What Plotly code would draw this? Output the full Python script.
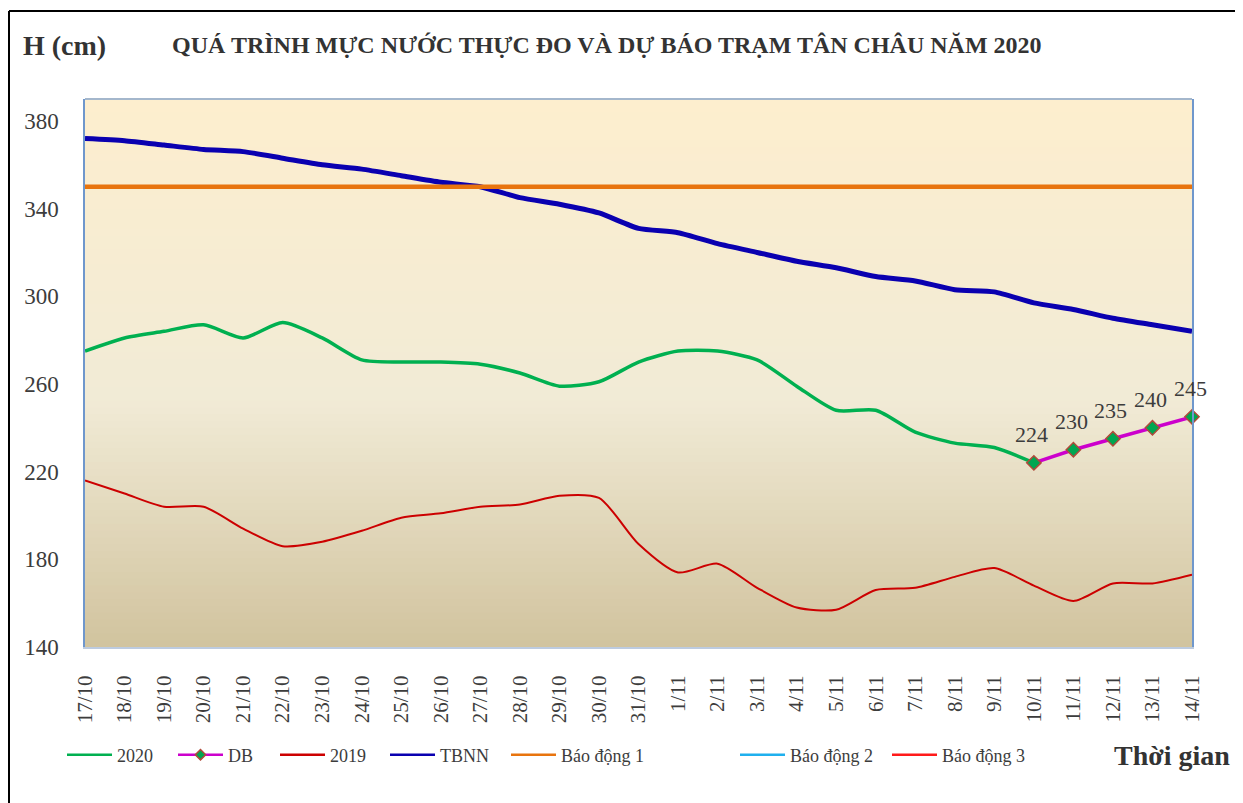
import plotly.graph_objects as go

dates = ["17/10", "18/10", "19/10", "20/10", "21/10", "22/10", "23/10", "24/10", "25/10",
         "26/10", "27/10", "28/10", "29/10", "30/10", "31/10", "1/11", "2/11", "3/11",
         "4/11", "5/11", "6/11", "7/11", "8/11", "9/11", "10/11", "11/11", "12/11",
         "13/11", "14/11"]

h2020 = [275, 281, 284, 287, 281, 288, 281, 271, 270, 270, 269, 265, 259, 261, 270,
         275, 275, 271, 259, 248, 248, 238, 233, 231, 224]
db_dates = ["10/11", "11/11", "12/11", "13/11", "14/11"]
db_vals = [224, 230, 235, 240, 245]
h2019 = [216, 210, 204, 204, 194, 186, 188, 193, 199, 201, 204, 205, 209, 208, 187,
         174, 178, 167, 158, 157, 166, 167, 172, 176, 168, 161, 169, 169, 173]
tbnn = [372, 371, 369, 367, 366, 363, 360, 358, 355, 352, 350, 345, 342, 338, 331,
        329, 324, 320, 316, 313, 309, 307, 303, 302, 297, 294, 290, 287, 284]
bd1 = [350] * len(dates)
bd2 = [400] * len(dates)
bd3 = [450] * len(dates)

yticks = [140, 180, 220, 260, 300, 340, 380]

SERIF = "Liberation Serif"
TXT = "#3c3c3c"

C2020, CDB, C2019, CTB, CBD1, CBD2, CBD3 = ("#00B050", "#CC00CC", "#CC0000", "#0A00B0",
                                          "#E8740E", "#1FB0EE", "#FF1A1A")

fig = go.Figure()

fig.add_trace(go.Scatter(x=dates[:len(h2020)], y=h2020, name="2020", mode="lines",
                         line=dict(color=C2020, width=3.5, shape="spline", smoothing=0.7),
                         showlegend=False))
fig.add_trace(go.Scatter(x=db_dates, y=db_vals, name="DB", mode="lines+markers",
                         line=dict(color=CDB, width=3.5),
                         marker=dict(symbol="diamond", size=11, color="#00A651",
                                     line=dict(color="#B04A3A", width=1.5)),
                         cliponaxis=False, showlegend=False))
fig.add_trace(go.Scatter(x=dates, y=h2019, name="2019", mode="lines",
                         line=dict(color=C2019, width=2, shape="spline", smoothing=0.7),
                         showlegend=False))
fig.add_trace(go.Scatter(x=dates, y=tbnn, name="TBNN", mode="lines",
                         line=dict(color=CTB, width=5, shape="spline", smoothing=0.6),
                         showlegend=False))
fig.add_trace(go.Scatter(x=dates, y=bd1, name="Báo động 1", mode="lines",
                         line=dict(color=CBD1, width=4.5), showlegend=False))
fig.add_trace(go.Scatter(x=dates, y=bd2, name="Báo động 2", mode="lines",
                         line=dict(color=CBD2, width=2.5), showlegend=False))
fig.add_trace(go.Scatter(x=dates, y=bd3, name="Báo động 3", mode="lines",
                         line=dict(color=CBD3, width=2.5), showlegend=False))

# legend entries (thin lines as in the reference legend)
leg_names = ["legend", "legend2", "legend3", "legend4", "legend5", "legend6", "legend7"]
leg_labels = ["2020", "DB", "2019", "TBNN", "Báo động 1", "Báo động 2", "Báo động 3"]
leg_colors = [C2020, CDB, C2019, CTB, CBD1, CBD2, CBD3]
for nm, lab, col in zip(leg_names, leg_labels, leg_colors):
    if lab == "DB":
        fig.add_trace(go.Scatter(x=[None], y=[None], name=lab, mode="lines+markers",
                                 line=dict(color=col, width=2.5),
                                 marker=dict(symbol="diamond", size=8, color="#00A651",
                                             line=dict(color="#B04A3A", width=1.5)),
                                 legend=nm, showlegend=True))
    else:
        fig.add_trace(go.Scatter(x=[None], y=[None], name=lab, mode="lines",
                                 line=dict(color=col, width=2.5), legend=nm, showlegend=True))

# background gradient bands in the plot area
def lerp(c1, c2, t):
    return tuple(round(a + (b - a) * t) for a, b in zip(c1, c2))

top_c = (253, 238, 206)
mid_c = (241, 235, 214)
bot_c = (209, 195, 158)
mid_pos = 0.45
N = 80
shapes = []
for i in range(N):
    y0 = i / N
    y1 = (i + 1) / N
    yc = (y0 + y1) / 2
    if yc >= mid_pos:
        c = lerp(mid_c, top_c, (yc - mid_pos) / (1 - mid_pos))
    else:
        c = lerp(bot_c, mid_c, yc / mid_pos)
    shapes.append(dict(type="rect", xref="x domain", yref="y domain", x0=0, x1=1,
                       y0=y0, y1=y1 + 0.002, fillcolor="rgb(%d,%d,%d)" % c,
                       line=dict(width=0), layer="below"))
# plot-area top border
shapes.append(dict(type="line", xref="x domain", yref="y domain", x0=0, x1=1, y0=1, y1=1,
                   line=dict(color="#86A5CB", width=1.5)))

# page offset (body margin) compensation
W, H = 1243, 803
OFF = 8
PL, PT, PW, PH = 85, 99, 1107, 548   # plot area in screenshot pixels
L = PL - OFF
T = PT - OFF
R = W - L - PW
B = H - T - PH

def px(x):
    return (x - PL) / PW
def py(y):
    return (PT + PH - y) / PH

# outer black frame (top and left)
shapes.append(dict(type="line", xref="paper", yref="paper", x0=px(9), x1=px(1270),
                   y0=py(11), y1=py(11), line=dict(color="black", width=2)))
shapes.append(dict(type="line", xref="paper", yref="paper", x0=px(9), x1=px(9),
                   y0=py(11), y1=py(830), line=dict(color="black", width=2)))

annotations = [
    dict(text="<b>QUÁ TRÌNH MỰC NƯỚC THỰC ĐO VÀ DỰ BÁO TRẠM TÂN CHÂU NĂM 2020</b>",
         xref="paper", yref="paper", x=px(607), y=py(45), showarrow=False,
         xanchor="center", yanchor="middle", font=dict(family=SERIF, size=24, color="#333333")),
    dict(text="<b>H (cm)</b>", xref="paper", yref="paper", x=px(21), y=py(45),
         showarrow=False, xanchor="left", yanchor="middle",
         font=dict(family=SERIF, size=28, color="#333333")),
    dict(text="<b>Thời gian</b>", xref="paper", yref="paper", x=px(1172), y=py(755),
         showarrow=False, xanchor="center", yanchor="middle",
         font=dict(family=SERIF, size=28, color="#333333")),
]
for d, v in zip(db_dates, db_vals):
    annotations.append(dict(text=str(v), x=d, y=v, xref="x", yref="y", showarrow=False,
                            xanchor="center", yanchor="middle", xshift=-2, yshift=28,
                            font=dict(family=SERIF, size=22, color=TXT)))

leg_starts = [70, 181, 283, 393, 514, 743, 895]
layout_legends = {}
for nm, xs in zip(leg_names, leg_starts):
    layout_legends[nm] = dict(x=px(xs - 8), y=py(755), xanchor="left", yanchor="middle",
                              orientation="h", bgcolor="rgba(0,0,0,0)", itemwidth=45,
                              font=dict(family=SERIF, size=18, color=TXT))

fig.update_layout(
    width=W, height=H,
    margin=dict(l=L, r=R, t=T, b=B),
    paper_bgcolor="white",
    plot_bgcolor="rgb(241,235,214)",
    shapes=shapes,
    annotations=annotations,
    **layout_legends,
    xaxis=dict(type="category", categoryorder="array", categoryarray=dates,
               range=[0, len(dates) - 1], tickangle=-90, showgrid=False, zeroline=False,
               showline=True, linecolor="#BCCBDF", linewidth=2, ticks="",
               ticklabelstandoff=18,
               tickfont=dict(family=SERIF, size=21, color=TXT)),
    yaxis=dict(range=[140, 390], tickvals=yticks, showgrid=False, zeroline=False,
               showline=True, mirror=True, linecolor="#6F97CC", linewidth=1.5, ticks="",
               ticklabelstandoff=20,
               tickfont=dict(family=SERIF, size=23, color=TXT)),
)

fig.write_html("out.html")
